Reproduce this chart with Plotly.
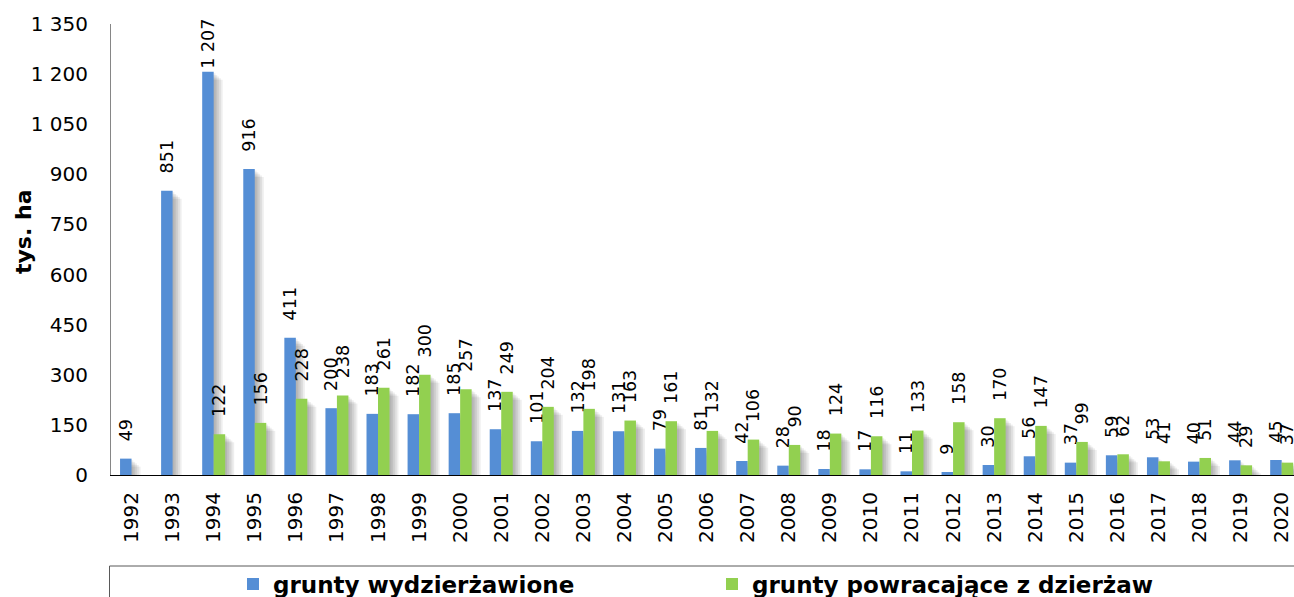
import plotly.graph_objects as go

years = [str(y) for y in range(1992, 2021)]

# tys. ha
wydzierzawione = [49, 851, 1207, 916, 411, 200, 183, 182, 185, 137, 101, 132, 131, 79, 81,
                  42, 28, 18, 17, 11, 9, 30, 56, 37, 59, 53, 40, 44, 45]
powracajace = [None, None, 122, 156, 228, 238, 261, 300, 257, 249, 204, 198, 163, 161, 132,
               106, 90, 124, 116, 133, 158, 170, 147, 99, 62, 41, 51, 29, 37]

y_ticks = [0, 150, 300, 450, 600, 750, 900, 1050, 1200, 1350]
y_tick_labels = ["0", "150", "300", "450", "600", "750", "900", "1 050", "1 200", "1 350"]


def fmt(v):
    if v is None:
        return ""
    s = f"{v:,}".replace(",", " ")
    # Excel leaves a gap under the rotated labels, except where it would hit the top
    return s if v > 1100 else "\u2002\u00a0" + s


FONT = "DejaVu Sans"
W, H = 1294, 597
ML, MR, MT, MB = 111, 0, 24, 122
plot_w = W - ML - MR
plot_h = H - MT - MB
BAR_W = 0.28            # in category units (about 11.5 px)
PX_X = 1 / 41.08        # one pixel in category units
PX_Y = 1350 / plot_h    # one pixel in value units


def px_x(p):
    return (p - ML) / plot_w


def px_y(p):
    return (H - MB - p) / plot_h


series = [
    ("grunty wydzierżawione", wydzierzawione, "#558ED5", -BAR_W),
    ("grunty powracające z dzierżaw", powracajace, "#92D050", 0.0),
]

fig = go.Figure()

# soft drop shadow like the Excel original
for name, vals, color, off in series:
    for k in range(1, 6):
        fig.add_trace(go.Bar(
            x=years, y=vals, base=-1.6 * k * PX_Y, offset=off + 1.8 * k * PX_X, width=BAR_W,
            marker=dict(color="rgba(0,0,0,0.065)", line=dict(width=0)),
            showlegend=False, hoverinfo="skip", cliponaxis=False,
        ))

for name, vals, color, off in series:
    fig.add_trace(go.Bar(
        x=years, y=vals, name=name, offset=off, width=BAR_W,
        marker=dict(color=color, line=dict(width=0)),
        text=[fmt(v) for v in vals], textposition="outside",
        textangle=-90, constraintext="none", cliponaxis=False,
        textfont=dict(family=FONT, size=17.5, color="black"),
    ))

# legend frame (cut off at the bottom of the picture)
fig.add_shape(type="rect", xref="paper", yref="paper",
              x0=px_x(109.5), x1=px_x(1400), y0=px_y(566), y1=px_y(640),
              line=dict(color="#595959", width=1), fillcolor="rgba(0,0,0,0)")

fig.add_annotation(
    text="<b>tys. ha</b>", textangle=-90, showarrow=False,
    xref="paper", yref="paper", x=px_x(23), y=px_y(232),
    xanchor="center", yanchor="middle",
    font=dict(family=FONT, size=22, color="black"),
)

fig.update_layout(
    width=W, height=H,
    margin=dict(l=ML, r=MR, t=MT, b=MB, autoexpand=False),
    paper_bgcolor="white", plot_bgcolor="white",
    font=dict(family=FONT, size=20, color="black"),
    barmode="overlay",
    showlegend=True,
    legend=dict(
        orientation="h", x=px_x(233), y=px_y(584), xanchor="left", yanchor="middle",
        entrywidth=434, entrywidthmode="pixels",
        font=dict(family=FONT, size=23, color="black", weight="bold"),
        bgcolor="rgba(0,0,0,0)",
    ),
    xaxis=dict(
        type="category", range=[-0.5, 28.3], automargin=False,
        showline=True, linecolor="black", linewidth=1,
        ticks="", tickangle=-90, ticklabelstandoff=8,
        tickfont=dict(family=FONT, size=20),
        showgrid=False,
    ),
    yaxis=dict(
        range=[0, 1350], tickvals=y_ticks, ticktext=y_tick_labels, automargin=False,
        showline=True, linecolor="#868686", linewidth=1,
        ticks="", ticklabelstandoff=18,
        tickfont=dict(family=FONT, size=20),
        showgrid=False, zeroline=False,
    ),
)

# the page's default body margin would shift the chart by 8 px
fig.write_html("out.html", config={"displayModeBar": False},
               post_script="document.body.style.margin='0';")
